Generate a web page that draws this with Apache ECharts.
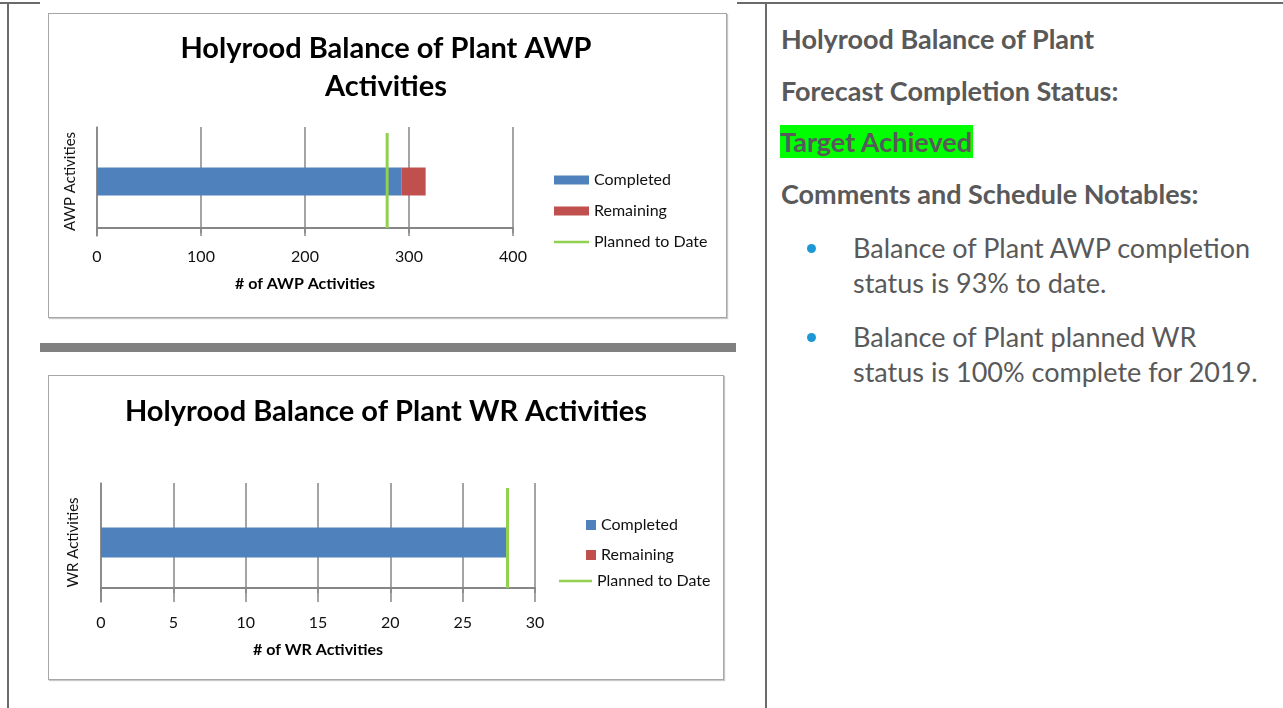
<!DOCTYPE html>
<html>
<head>
<meta charset="utf-8">
<script src="https://cdn.jsdelivr.net/npm/echarts@6/dist/echarts.min.js"></script>
<style>
  html, body { margin: 0; padding: 0; background: #fff; }
  body { width: 1283px; height: 708px; position: relative; overflow: hidden; font-family: Lato, "Open Sans", sans-serif; }
  .ln { position: absolute; background: #6b6b6b; }
  .box { position: absolute; border: 1px solid #a6a6a6; box-shadow: 1px 1px 1px #c8c8c8; background: #fff; }
  #chart { position: absolute; left: 0; top: 0; width: 766px; height: 708px; }
  .txt { position: absolute; left: 781px; color: #595959; white-space: nowrap; }
  .hd { font-weight: bold; font-size: 27px; height: 36px; line-height: 36px; }
  .bl { left: 853px; font-size: 27px; height: 34px; line-height: 34px; }
  .dot { position: absolute; left: 807px; width: 9px; height: 9px; border-radius: 50%; background: #1c98d6; }
  .hl { background: #00ff00; padding: 0 1px 0 0; margin-left: -1px; }
</style>
</head>
<body>
<div class="ln" style="left:0px;top:2px;width:40px;height:2px"></div>
<div class="ln" style="left:737px;top:2px;width:546px;height:2px"></div>
<div class="ln" style="left:7px;top:2px;width:2px;height:706px"></div>
<div class="ln" style="left:765px;top:2px;width:2px;height:706px"></div>
<div style="position:absolute;left:40px;top:343px;width:696px;height:9px;background:#808080"></div>
<div class="box" style="left:48px;top:13px;width:677px;height:303px"></div>
<div class="box" style="left:48px;top:375px;width:674px;height:303px"></div>
<div id="chart"></div>

<div class="txt hd" style="top:21px">Holyrood Balance of Plant</div>
<div class="txt hd" style="top:73px">Forecast Completion Status:</div>
<div class="txt hd" style="top:124px"><span class="hl">Target Achieved</span></div>
<div class="txt hd" style="top:176px">Comments and Schedule Notables:</div>
<div class="dot" style="top:244px"></div>
<div class="txt bl" style="top:231px">Balance of Plant AWP completion</div>
<div class="txt bl" style="top:266px">status is 93% to date.</div>
<div class="dot" style="top:333px"></div>
<div class="txt bl" style="top:320px">Balance of Plant planned WR</div>
<div class="txt bl" style="top:355px">status is 100% complete for 2019.</div>

<script>
// AWP chart values
var awpCategory = ['AWP Activities'];
var awpCompleted = [293];
var awpRemaining = [23];
var awpPlanned = 279;
var awpTicks = [0, 400, 100];

// WR chart values
var wrCategory = ['WR Activities'];
var wrCompleted = [28];
var wrRemaining = [0];
var wrPlanned = 28.1;
var wrTicks = [0, 30, 5];

var blue = '#4f81bd', red = '#c0504d', green = '#92d050', gridGray = '#868686';
var font = 'Lato, "Open Sans", sans-serif';
var lineIcon = 'path://M0 0H40V3H0Z';

function xAxisFor(idx, ticks, name) {
    return {
        gridIndex: idx, type: 'value', min: ticks[0], max: ticks[1], interval: ticks[2],
        name: name, nameLocation: 'middle', nameGap: 40,
        nameTextStyle: { fontFamily: font, fontWeight: 'bold', fontSize: 16, color: '#000' },
        axisLine: { show: true, lineStyle: { color: gridGray, width: 2 } },
        axisTick: { show: true, length: 5, lineStyle: { color: gridGray, width: 1.5 } },
        axisLabel: { margin: 13, fontFamily: font, fontSize: 16, color: '#111' },
        splitLine: { show: true, lineStyle: { color: gridGray, width: 1.5 } }
    };
}
function catAxisFor(idx, cats, gap) {
    return {
        gridIndex: idx, type: 'category', data: cats,
        name: cats[0], nameLocation: 'middle', nameRotate: 90, nameGap: gap,
        nameTextStyle: { fontFamily: font, fontSize: 15, color: '#111' },
        axisLine: { show: true, lineStyle: { color: gridGray, width: 1.5 } },
        axisTick: { show: false }, axisLabel: { show: false }
    };
}
var legendText = { fontFamily: font, fontSize: 16, color: '#111' };

var myChart = echarts.init(document.getElementById('chart'));
var option = {
    animation: false,
    title: [
        { text: 'Holyrood Balance of Plant AWP\nActivities', left: 381, top: 25, textAlign: 'center',
          textStyle: { fontFamily: font, fontWeight: 'bold', fontSize: 29, lineHeight: 38, color: '#000' } },
        { text: 'Holyrood Balance of Plant WR Activities', left: 381, top: 388, textAlign: 'center',
          textStyle: { fontFamily: font, fontWeight: 'bold', fontSize: 29, lineHeight: 38, color: '#000' } }
    ],
    legend: [
        { orient: 'vertical', left: 554, top: 172, padding: 0, itemWidth: 35, itemHeight: 9, itemGap: 15,
          textStyle: legendText,
          data: [{ name: 'Completed', icon: 'rect' }, { name: 'Remaining', icon: 'rect' }, { name: 'Planned to Date', icon: lineIcon }] },
        { orient: 'vertical', left: 586, top: 517, padding: 0, itemWidth: 10, itemHeight: 10, itemGap: 14,
          textStyle: legendText,
          data: [{ name: 'Completed ', icon: 'rect' }, { name: 'Remaining ', icon: 'rect' }] },
        { orient: 'vertical', left: 559, top: 573, padding: 0, itemWidth: 33, itemHeight: 9,
          textStyle: legendText,
          data: [{ name: 'Planned to Date ', icon: lineIcon }] }
    ],
    grid: [
        { left: 97, top: 127, width: 416, height: 109 },
        { left: 101, top: 483, width: 434, height: 119 }
    ],
    xAxis: [
        xAxisFor(0, awpTicks, '# of AWP Activities'),
        xAxisFor(1, wrTicks, '# of WR Activities')
    ],
    yAxis: [
        catAxisFor(0, awpCategory, 19),
        { gridIndex: 0, type: 'value', min: -0.084, max: 1.063, show: false },
        catAxisFor(1, wrCategory, 20),
        { gridIndex: 1, type: 'value', min: -0.14, max: 1.05, show: false }
    ],
    series: [
        { name: 'Completed', type: 'bar', stack: 'awp', xAxisIndex: 0, yAxisIndex: 0, barWidth: 28,
          itemStyle: { color: blue }, data: awpCompleted },
        { name: 'Remaining', type: 'bar', stack: 'awp', xAxisIndex: 0, yAxisIndex: 0, barWidth: 28,
          itemStyle: { color: red }, data: awpRemaining },
        { name: 'Planned to Date', type: 'line', xAxisIndex: 0, yAxisIndex: 1, symbol: 'none',
          lineStyle: { color: green, width: 3 }, itemStyle: { color: green }, z: 5,
          data: [[awpPlanned, 0], [awpPlanned, 1]] },
        { name: 'Completed ', type: 'bar', stack: 'wr', xAxisIndex: 1, yAxisIndex: 2, barWidth: 30,
          itemStyle: { color: blue }, data: wrCompleted },
        { name: 'Remaining ', type: 'bar', stack: 'wr', xAxisIndex: 1, yAxisIndex: 2, barWidth: 30,
          itemStyle: { color: red }, data: wrRemaining },
        { name: 'Planned to Date ', type: 'line', xAxisIndex: 1, yAxisIndex: 3, symbol: 'none',
          lineStyle: { color: green, width: 3 }, itemStyle: { color: green }, z: 5,
          data: [[wrPlanned, 0], [wrPlanned, 1]] }
    ]
};
myChart.setOption(option);
</script>
</body>
</html>
